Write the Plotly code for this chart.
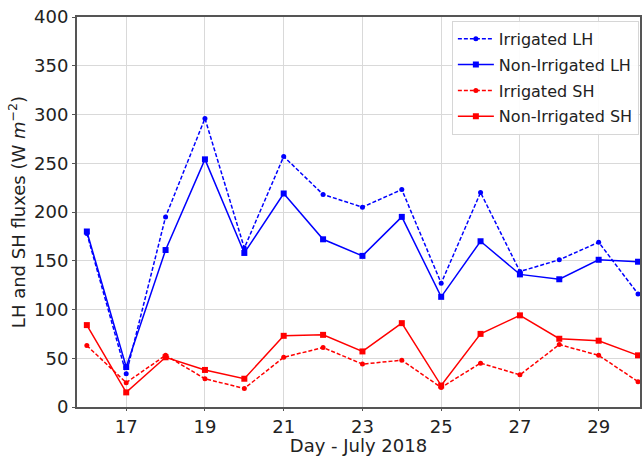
import plotly.graph_objects as go

days = list(range(16, 31))
irr_lh = [178, 34, 195, 296, 163, 257, 218, 205, 223, 127, 220, 139, 151, 169, 116]
non_irr_lh = [180, 41, 161, 254, 158, 219, 172, 155, 195, 113, 170, 136, 131, 151, 149]
irr_sh = [63, 25, 53, 29, 19, 51, 61, 44, 48, 20, 45, 33, 64, 53, 26]
non_irr_sh = [84, 15, 51, 38, 29, 73, 74, 57, 86, 22, 75, 94, 70, 68, 53]

x_ticks = [17, 19, 21, 23, 25, 27, 29]
y_ticks = [0, 50, 100, 150, 200, 250, 300, 350, 400]

BLUE = "#0000ff"
RED = "#ff0000"
FONT = "DejaVu Sans"

fig = go.Figure()
series = [
    ("Irrigated LH", irr_lh, BLUE, "dash", "circle", 5),
    ("Non-Irrigated LH", non_irr_lh, BLUE, "solid", "square", 6),
    ("Irrigated SH", irr_sh, RED, "dash", "circle", 5),
    ("Non-Irrigated SH", non_irr_sh, RED, "solid", "square", 6),
]
for i, (name, vals, col, dash, sym, sz) in enumerate(series):
    fig.add_trace(go.Scatter(
        x=days, y=vals, name=name, mode="lines+markers", legendgroup=f"g{i}",
        line=dict(color=col, width=1.5, dash="4px,2px" if dash == "dash" else "solid"),
        marker=dict(symbol=sym, size=sz, color=col),
    ))

fig.update_layout(
    width=642, height=456,
    margin=dict(l=77, r=0, t=17, b=49),
    paper_bgcolor="white", plot_bgcolor="white",
    font=dict(family=FONT, size=18, color="#222222"),
    showlegend=True,
    legend=dict(
        x=0.998, y=0.99, xanchor="right", yanchor="top",
        bgcolor="rgba(255,255,255,0.9)", bordercolor="#d6d6d6", borderwidth=1,
        font=dict(family=FONT, size=16, color="#222222"),
        tracegroupgap=2, itemwidth=36,
    ),
    xaxis=dict(
        range=[15.75, 30.05], tickvals=x_ticks, ticktext=[str(t) for t in x_ticks],
        showgrid=True, gridcolor="#d9d9d9", gridwidth=1,
        showline=True, linecolor="#555555", linewidth=2, mirror=True,
        ticks="outside", ticklen=2, tickcolor="#555555",
        tickfont=dict(size=18),
        zeroline=False,
        title=dict(text="Day - July 2018", font=dict(size=18), standoff=1),
    ),
    yaxis=dict(
        range=[0, 400], tickvals=y_ticks,
        showgrid=True, gridcolor="#d9d9d9", gridwidth=1,
        showline=True, linecolor="#555555", linewidth=2, mirror=True,
        ticks="outside", ticklen=3, tickcolor="#555555",
        zeroline=False,
        title=dict(text="LH and SH fluxes (W <i>m</i><sup>−2</sup>)", font=dict(size=18), standoff=4),
    ),
)

fig.write_html("out.html")
